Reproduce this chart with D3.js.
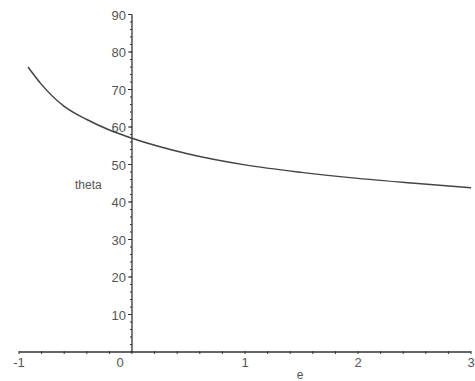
<!DOCTYPE html>
<html>
<head>
<meta charset="utf-8">
<script src="https://cdn.jsdelivr.net/npm/d3@7"></script>
<style>
  body { margin: 0; background: #fff; }
  svg { display: block; }
  text { font-family: "Liberation Sans", Arial, sans-serif; fill: #555; }
</style>
</head>
<body>
<svg id="chart" width="475" height="381"></svg>
<script>
// values
const eValues = [-0.92, -0.8, -0.6, -0.4, -0.2, 0, 0.5, 1, 1.5, 2, 2.5, 3];
const thetaValues = [76, 71.3, 65.5, 62.0, 59.2, 57.0, 52.8, 49.9, 47.9, 46.3, 45.0, 43.8];
const xTicks = [-1, 0, 1, 2, 3];
const yTicks = [10, 20, 30, 40, 50, 60, 70, 80, 90];

const svg = d3.select("#chart");

const x = d3.scaleLinear().domain([-1, 3]).range([19, 471]);
const y = d3.scaleLinear().domain([0, 90]).range([352, 14.5]);

const axisColor = "#333";

// x axis line + ticks
svg.append("line")
    .attr("x1", x(-1)).attr("x2", x(3))
    .attr("y1", y(0)).attr("y2", y(0))
    .attr("stroke", axisColor).attr("stroke-width", 1.3);

svg.selectAll(".xminor")
    .data(d3.range(-1, 3.001, 0.2))
    .enter().append("line")
    .attr("x1", d => x(d)).attr("x2", d => x(d))
    .attr("y1", y(0) - 1).attr("y2", y(0) + 2)
    .attr("stroke", axisColor);

svg.selectAll(".xlab")
    .data(xTicks)
    .enter().append("text")
    .attr("x", d => d === 0 ? x(0) - 12 : x(d))
    .attr("y", y(0) + 15)
    .attr("text-anchor", "middle")
    .attr("font-size", 13)
    .text(d => d);

// y axis line + ticks
svg.append("line")
    .attr("x1", x(0)).attr("x2", x(0))
    .attr("y1", y(0)).attr("y2", y(90))
    .attr("stroke", axisColor).attr("stroke-width", 1.3);

svg.selectAll(".yminor")
    .data(d3.range(0, 90.001, 2))
    .enter().append("line")
    .attr("x1", x(0) - 2).attr("x2", x(0))
    .attr("y1", d => y(d)).attr("y2", d => y(d))
    .attr("stroke", axisColor);

svg.selectAll(".ymajor")
    .data(yTicks)
    .enter().append("line")
    .attr("x1", x(0) - 4).attr("x2", x(0))
    .attr("y1", d => y(d)).attr("y2", d => y(d))
    .attr("stroke", axisColor);

svg.selectAll(".ylab")
    .data(yTicks)
    .enter().append("text")
    .attr("x", x(0) - 6)
    .attr("y", d => y(d) + 5)
    .attr("text-anchor", "end")
    .attr("font-size", 13)
    .text(d => d);

// axis titles
svg.append("text")
    .attr("x", 300).attr("y", 379)
    .attr("text-anchor", "middle")
    .attr("font-size", 12)
    .text("e");

svg.append("text")
    .attr("x", 75).attr("y", 189)
    .attr("font-size", 12)
    .text("theta");

// curve
const line = d3.line()
    .x((d, i) => x(eValues[i]))
    .y(d => y(d))
    .curve(d3.curveMonotoneX);

svg.append("path")
    .datum(thetaValues)
    .attr("d", line)
    .attr("fill", "none")
    .attr("stroke", "#444")
    .attr("stroke-width", 1.5);
</script>
</body>
</html>
